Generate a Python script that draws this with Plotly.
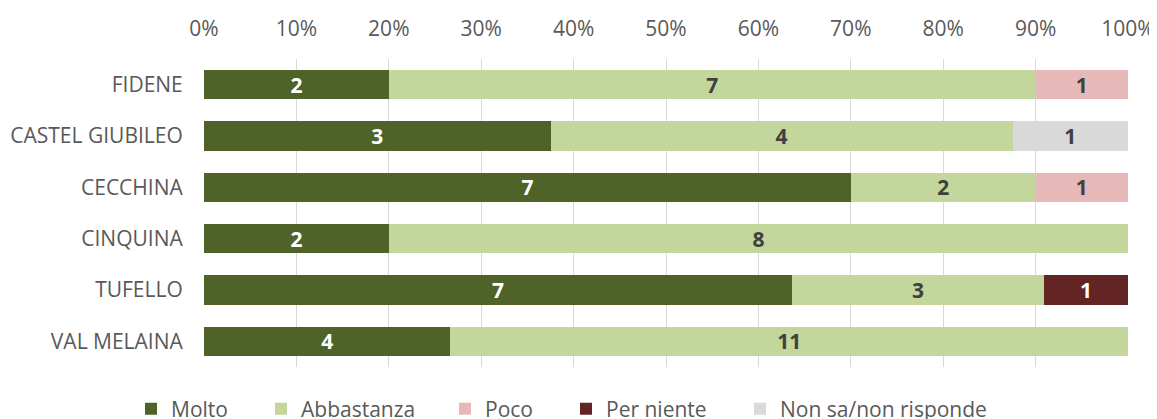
import plotly.graph_objects as go

categories = ["FIDENE", "CASTEL GIUBILEO", "CECCHINA", "CINQUINA", "TUFELLO", "VAL MELAINA"]
series_names = ["Molto", "Abbastanza", "Poco", "Per niente", "Non sa/non risponde"]
molto = [2, 3, 7, 2, 7, 4]
abbastanza = [7, 4, 2, 8, 3, 11]
poco = [1, 0, 1, 0, 0, 0]
per_niente = [0, 0, 0, 0, 1, 0]
non_sa = [0, 1, 0, 0, 0, 0]
tick_vals = [0, 10, 20, 30, 40, 50, 60, 70, 80, 90, 100]
tick_text = ["0%", "10%", "20%", "30%", "40%", "50%", "60%", "70%", "80%", "90%", "100%"]

colors = ["#4F6228", "#C3D69B", "#E6B9B8", "#632523", "#D9D9D9"]
label_colors = ["#FFFFFF", "#404040", "#404040", "#FFFFFF", "#404040"]
series = [molto, abbastanza, poco, per_niente, non_sa]

# The page body has an 8px margin, so the figure is drawn 8px in from the window corner.
OFF = 8
W, H = 1157 - OFF, 419 - OFF

# legend text start pixel positions in the window (layout only)
legend_text_x = [172, 302, 486, 607, 781]
legend_ids = ["legend", "legend2", "legend3", "legend4", "legend5"]

FONT = "Open Sans, sans-serif"

fig = go.Figure()
for name, vals, col, lcol, lid in zip(series_names, series, colors, label_colors, legend_ids):
    fig.add_trace(go.Bar(
        name=name,
        y=categories,
        x=vals,
        orientation="h",
        legend=lid,
        marker=dict(color=col, line=dict(width=0)),
        text=[str(v) if v else "" for v in vals],
        textposition="inside",
        insidetextanchor="middle",
        textangle=0,
        constraintext="none",
        textfont=dict(family=FONT, size=21, color=lcol, weight="bold"),
        hoverinfo="skip",
    ))

legend_layout = {}
for lid, tx in zip(legend_ids, legend_text_x):
    legend_layout[lid] = dict(
        orientation="h",
        xref="container",
        yref="container",
        x=(tx - OFF - 41) / W,
        xanchor="left",
        y=1 - (409 - OFF) / H,
        yanchor="middle",
        font=dict(family=FONT, size=21, color="#595959"),
        bgcolor="rgba(0,0,0,0)",
        borderwidth=0,
    )

fig.update_layout(
    barmode="stack",
    barnorm="percent",
    bargap=0.425,
    width=W,
    height=H,
    margin=dict(l=204 - OFF, r=29, t=59 - OFF, b=52, autoexpand=False),
    paper_bgcolor="white",
    plot_bgcolor="white",
    font=dict(family=FONT, size=21, color="#595959"),
    showlegend=True,
    xaxis=dict(
        side="top",
        range=[0, 100],
        tickvals=tick_vals,
        ticktext=tick_text,
        showgrid=True,
        gridcolor="#D9D9D9",
        gridwidth=1.3,
        zeroline=False,
        showline=False,
        ticks="outside",
        ticklen=14,
        tickcolor="rgba(0,0,0,0)",
        tickfont=dict(family=FONT, size=21, color="#595959"),
        fixedrange=True,
    ),
    yaxis=dict(
        autorange="reversed",
        showgrid=False,
        showline=False,
        ticks="outside",
        ticklen=16,
        tickcolor="rgba(0,0,0,0)",
        tickfont=dict(family=FONT, size=21, color="#595959"),
        fixedrange=True,
    ),
    **legend_layout,
)

fig.write_html("out.html")
